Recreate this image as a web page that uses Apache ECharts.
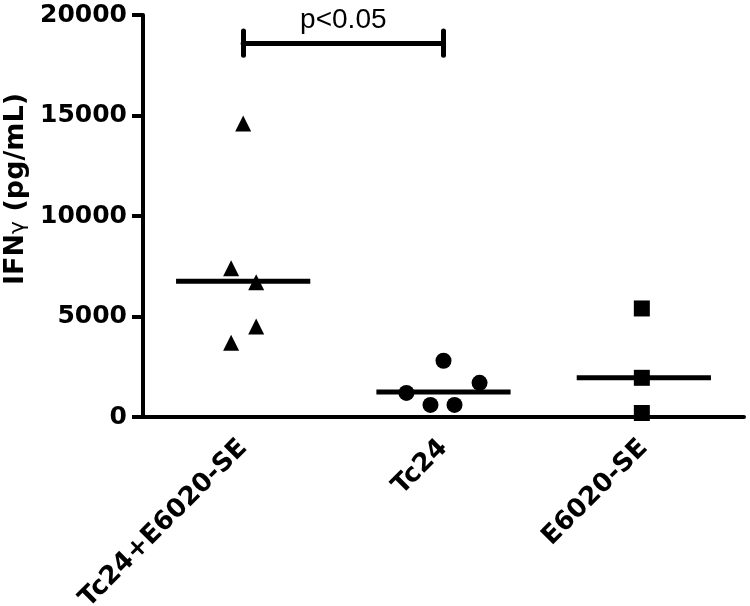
<!DOCTYPE html>
<html>
<head>
<meta charset="utf-8">
<script src="https://cdn.jsdelivr.net/npm/echarts@6/dist/echarts.min.js"></script>
<style>
  html, body { margin: 0; padding: 0; background: #fff; }
</style>
</head>
<body>
<div id="main" style="width:750px;height:606px"></div>
<script>
  // groups on the x axis
  const groups = ['Tc24+E6020-SE', 'Tc24', 'E6020-SE'];
  const yTicks = [0, 5000, 10000, 15000, 20000];

  // individual values (pg/mL)
  const comboValues = [14600, 7400, 6700, 4500, 3700];
  const tc24Values = [2800, 1200, 600, 600, 1700];
  const e6020Values = [5400, 1950, 200];

  // horizontal scatter of each point inside its column (in column units)
  const comboJitter = [0, -0.06, 0.065, 0.065, -0.06];
  const tc24Jitter = [0, -0.185, -0.065, 0.055, 0.18];
  const e6020Jitter = [-0.01, -0.01, -0.01];

  // median bars
  const medians = [6750, 1250, 1950];

  // significance bracket between group 0 and group 1
  const sigFrom = 0, sigTo = 1;
  const sigY = 18600, capLow = 18000, capHigh = 19200;
  const sigText = 'p<0.05';

  const FONT = 'DejaVu Sans';

  function points(vals, jit, idx) {
    return vals.map((v, i) => [idx + jit[i], v]);
  }

  const medianSeries = medians.map((m, i) => ({
    type: 'line',
    xAxisIndex: 1,
    symbol: 'none',
    silent: true,
    lineStyle: { color: '#000', width: 5 },
    data: [[i - 0.335, m], [i + 0.335, m]],
    z: 2,
  }));

  const dot = { color: '#000', opacity: 1 };

  const chart = echarts.init(document.getElementById('main'));
  chart.setOption({
    backgroundColor: '#fff',
    animation: false,
    grid: { left: 143, right: 6, top: 15, bottom: 189, containLabel: false, outerBoundsMode: 'none' },
    xAxis: [
      {
        type: 'category',
        data: groups,
        boundaryGap: true,
        axisLine: { onZero: false, lineStyle: { color: '#000', width: 4 } },
        axisTick: { alignWithLabel: true, length: 11, lineStyle: { color: '#000', width: 4 } },
        axisLabel: {
          interval: 0,
          rotate: 45,
          margin: 27,
          color: '#000',
          fontFamily: FONT,
          fontWeight: 'bold',
          fontSize: 26,
        },
      },
      {
        type: 'value',
        min: -0.5,
        max: 2.5,
        show: false,
      },
    ],
    yAxis: {
      type: 'value',
      min: 0,
      max: 20000,
      interval: 5000,
      splitLine: { show: false },
      axisLine: { show: true, onZero: false, lineStyle: { color: '#000', width: 4 } },
      axisTick: { show: true, length: 11, lineStyle: { color: '#000', width: 4 } },
      axisLabel: {
        margin: 16,
        color: '#000',
        fontFamily: FONT,
        fontWeight: 'bold',
        fontSize: 25,
        formatter: (v) => (yTicks.indexOf(v) >= 0 ? String(v) : ''),
      },
      name: '{b|IFN}{g|γ}{b| (pg/mL)}',
      nameLocation: 'middle',
      nameRotate: 90,
      nameGap: 108,
      nameTextStyle: {
        padding: [0, 0, 0, 54],
        rich: {
          b: { fontFamily: FONT, fontWeight: 'bold', fontSize: 27, color: '#000' },
          g: { fontFamily: FONT, fontSize: 22, color: '#000', verticalAlign: 'bottom' },
        },
      },
    },
    series: [
      ...medianSeries,
      {
        type: 'scatter',
        xAxisIndex: 1,
        symbol: 'triangle',
        symbolSize: 16,
        itemStyle: dot,
        data: points(comboValues, comboJitter, 0),
        z: 3,
      },
      {
        type: 'scatter',
        xAxisIndex: 1,
        symbol: 'circle',
        symbolSize: 16,
        itemStyle: dot,
        data: points(tc24Values, tc24Jitter, 1),
        z: 3,
      },
      {
        type: 'scatter',
        xAxisIndex: 1,
        symbol: 'rect',
        symbolSize: 16,
        itemStyle: dot,
        data: points(e6020Values, e6020Jitter, 2),
        z: 3,
      },
      {
        type: 'lines',
        coordinateSystem: 'cartesian2d',
        xAxisIndex: 1,
        silent: true,
        lineStyle: { color: '#000', width: 5, opacity: 1, cap: 'round' },
        data: [
          { coords: [[sigFrom, sigY], [sigTo, sigY]] },
          { coords: [[sigFrom, capLow], [sigFrom, capHigh]] },
          { coords: [[sigTo, capLow], [sigTo, capHigh]] },
        ],
      },
      {
        type: 'scatter',
        xAxisIndex: 1,
        symbolSize: 0,
        silent: true,
        itemStyle: { color: 'transparent', opacity: 1 },
        label: {
          show: true,
          position: 'top',
          distance: 9,
          formatter: sigText,
          color: '#000',
          opacity: 1,
          fontFamily: 'Liberation Sans',
          fontSize: 28,
        },
        data: [[(sigFrom + sigTo) / 2, sigY]],
      },
    ],
  });
</script>
</body>
</html>
